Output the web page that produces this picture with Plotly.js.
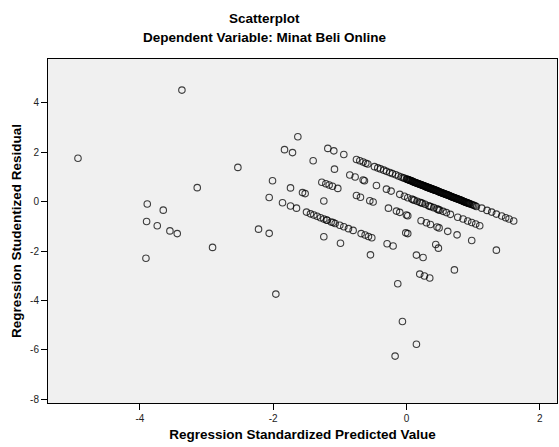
<!DOCTYPE html>
<html>
<head>
<meta charset="utf-8">
<script src="https://cdn.plot.ly/plotly-3.0.1.min.js"></script>
<style>html,body{margin:0;padding:0;background:#fff;}#chart{width:559px;height:447px;}</style>
</head>
<body>
<div id="chart"></div>
<script>
// Regression Standardized Predicted Value
const predictedValue = [
  -4.93,-3.37,-2.53,-3.14,-3.89,-3.65,-3.90,-3.74,-3.55,-3.44,-3.91,-2.91,-2.22,-2.06,-2.06,-2.01,-1.86,-1.74,-1.74,-1.65,-1.96,-1.83,-1.71,-1.63,
  -1.18,-1.09,-0.94,-0.75,-0.70,-0.65,-0.61,-0.58,-0.48,-0.43,-0.39,-0.34,-0.30,-0.25,-0.21,-0.16,-0.12,-0.08,
  -0.05,-0.03,0.00,0.02,0.03,0.05,0.07,0.08,0.10,0.12,0.13,0.15,0.17,0.19,0.20,0.22,0.24,0.26,0.27,0.29,
  0.31,0.33,0.34,0.36,0.38,0.40,0.41,0.43,0.45,0.47,0.49,0.50,0.52,0.54,0.56,0.58,0.59,0.61,0.63,0.65,
  0.67,0.69,0.71,0.73,0.75,0.77,0.79,0.81,0.83,0.85,0.87,0.89,0.91,0.93,0.95,0.97,0.99,1.01,1.03,1.05,
  0.01,0.04,0.06,0.09,0.11,0.14,0.16,0.18,0.21,0.23,0.25,0.28,0.30,0.32,0.35,0.37,0.39,0.42,0.44,0.46,0.48,
  0.51,0.53,0.55,0.57,0.60,0.62,0.64,0.66,0.68,0.70,0.72,0.74,0.76,0.78,0.80,0.82,0.84,0.86,0.88,0.90,0.92,0.94,
  1.13,1.21,1.28,1.35,1.43,1.49,1.54,1.61,
  -1.40,-1.08,-0.85,-0.77,-0.65,-0.63,-0.45,-0.30,-0.23,-0.10,-0.03,0.02,
  0.08,0.12,0.16,0.20,0.24,0.28,0.33,0.37,0.41,0.46,0.50,0.55,0.60,0.66,
  0.10,0.22,0.35,0.48,
  0.77,0.85,0.92,0.98,1.04,1.10,
  -1.27,-1.21,-1.16,-1.11,-1.03,-0.75,-0.69,-0.55,-0.50,-0.27,-0.15,-0.10,0.00,0.02,
  0.22,0.30,0.36,0.46,0.49,0.62,0.76,0.98,1.35,
  -1.56,-1.52,-1.24,-0.01,0.02,0.44,0.48,
  -1.50,-1.44,-1.39,-1.34,-1.29,-1.24,-1.19,-1.13,-1.07,-1.00,-0.94,-0.87,-0.80,
  -1.20,-1.10,
  -0.68,-0.62,-0.57,-0.52,-0.29,-0.20,0.15,0.25,0.72,
  -1.24,-0.99,-0.54,0.20,0.27,0.35,
  -0.13,-0.06,0.15,-0.17
];
// Regression Studentized Residual
const studentizedResidual = [
  1.76,4.52,1.39,0.57,-0.09,-0.34,-0.80,-0.97,-1.18,-1.29,-2.29,-1.85,-1.11,-1.28,0.17,0.85,-0.04,0.56,-0.17,-0.26,-3.74,2.11,1.99,2.63,
  2.16,2.06,1.91,1.71,1.66,1.61,1.56,1.53,1.42,1.37,1.33,1.28,1.23,1.18,1.14,1.09,1.04,1.00,
  0.97,0.95,0.92,0.90,0.89,0.87,0.85,0.84,0.81,0.79,0.78,0.76,0.74,0.72,0.71,0.69,0.67,0.65,0.64,0.61,
  0.59,0.57,0.56,0.54,0.52,0.50,0.49,0.47,0.45,0.43,0.40,0.39,0.37,0.35,0.33,0.31,0.30,0.28,0.26,0.24,
  0.21,0.19,0.17,0.15,0.13,0.11,0.09,0.07,0.05,0.02,0.00,-0.02,-0.04,-0.06,-0.08,-0.10,-0.12,-0.14,-0.16,-0.19,
  0.91,0.88,0.86,0.83,0.80,0.77,0.75,0.73,0.70,0.68,0.66,0.63,0.60,0.58,0.55,0.53,0.51,0.48,0.46,0.44,0.41,
  0.38,0.36,0.34,0.32,0.29,0.27,0.25,0.22,0.20,0.18,0.16,0.14,0.12,0.10,0.08,0.06,0.04,0.01,-0.01,-0.03,-0.05,-0.07,
  -0.26,-0.35,-0.42,-0.50,-0.58,-0.65,-0.70,-0.78,
  1.66,1.32,1.08,1.00,0.88,0.85,0.66,0.51,0.43,0.30,0.22,0.16,
  0.11,0.06,0.02,-0.02,-0.06,-0.10,-0.16,-0.20,-0.24,-0.29,-0.34,-0.39,-0.44,-0.51,
  0.08,-0.04,-0.18,-0.32,
  -0.63,-0.70,-0.78,-0.84,-0.90,-0.97,
  0.79,0.73,0.68,0.63,0.54,0.25,0.18,0.04,-0.01,-0.26,-0.38,-0.43,-0.54,-0.57,
  -0.77,-0.85,-0.92,-1.02,-1.06,-1.20,-1.34,-1.57,-1.96,
  0.37,0.33,0.03,-1.26,-1.29,-1.73,-1.88,
  -0.42,-0.49,-0.54,-0.59,-0.65,-0.70,-0.75,-0.82,-0.88,-0.95,-1.01,-1.09,-1.16,
  -0.74,-0.84,
  -1.29,-1.35,-1.41,-1.46,-1.70,-1.79,-2.16,-2.26,-2.76,
  -1.42,-1.68,-2.15,-2.93,-3.01,-3.09,
  -3.32,-4.85,-5.77,-6.25
];
const xTickValues = [-4, -2, 0, 2];
const xTickLabels = ['-4', '-2', '0', '2'];
const yTickValues = [-8, -6, -4, -2, 0, 2, 4];
const yTickLabels = ['-8', '-6', '-4', '-2', '0', '2', '4'];

const FONT = 'Arial, "Liberation Sans", sans-serif';

const trace = {
  type: 'scatter',
  mode: 'markers',
  x: predictedValue,
  y: studentizedResidual,
  marker: {
    symbol: 'circle-open',
    size: 6.5,
    color: 'rgba(0,0,0,0.75)',
    line: {width: 1.1}
  },
  hoverinfo: 'x+y'
};

const layout = {
  width: 559,
  height: 447,
  margin: {l: 48, r: 2, t: 59, b: 44, pad: 0},
  paper_bgcolor: '#ffffff',
  plot_bgcolor: '#f0f0f0',
  showlegend: false,
  font: {family: FONT, size: 10, color: '#000'},
  xaxis: {
    range: [-5.38, 2.26],
    tickvals: xTickValues,
    ticktext: xTickLabels,
    ticks: 'outside',
    ticklen: 6,
    tickcolor: '#000',
    tickwidth: 1,
    showgrid: false,
    zeroline: false,
    showline: true,
    mirror: true,
    linecolor: '#000',
    linewidth: 1,
    tickfont: {family: FONT, size: 10, color: '#222'},
    title: {text: 'Regression Standardized Predicted Value', font: {family: FONT, size: 13.5, color: '#000', weight: 'bold'}, standoff: 6},
    automargin: false
  },
  yaxis: {
    range: [-8.15, 5.78],
    tickvals: yTickValues,
    ticktext: yTickLabels,
    ticks: 'outside',
    ticklen: 6,
    tickcolor: '#000',
    tickwidth: 1,
    showgrid: false,
    zeroline: false,
    showline: true,
    mirror: true,
    linecolor: '#000',
    linewidth: 1,
    tickfont: {family: FONT, size: 10, color: '#222'},
    title: {text: 'Regression Studentized Residual', font: {family: FONT, size: 13.5, color: '#000', weight: 'bold'}, standoff: 5},
    automargin: false
  },
  annotations: [
    {text: 'Scatterplot', xref: 'paper', yref: 'paper', x: 0.426, y: 1.118, xanchor: 'center', yanchor: 'middle', showarrow: false, font: {family: FONT, size: 13.5, color: '#000', weight: 'bold'}},
    {text: 'Dependent Variable: Minat Beli Online', xref: 'paper', yref: 'paper', x: 0.426, y: 1.063, xanchor: 'center', yanchor: 'middle', showarrow: false, font: {family: FONT, size: 13.5, color: '#000', weight: 'bold'}}
  ]
};

Plotly.newPlot('chart', [trace], layout, {displayModeBar: false, staticPlot: true});
</script>
</body>
</html>
